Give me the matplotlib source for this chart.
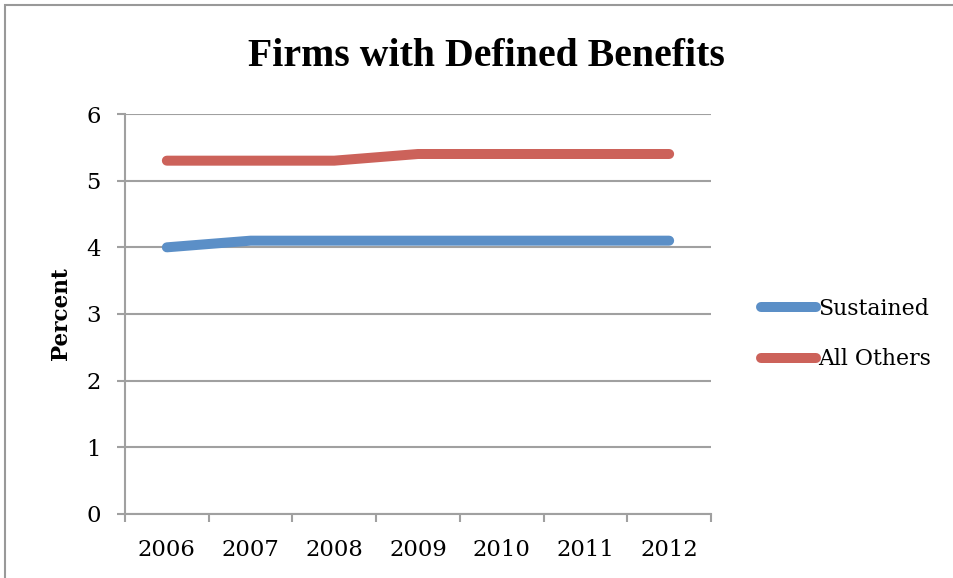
import numpy as np
import matplotlib.pyplot as plt
from matplotlib.lines import Line2D

years = ['2006', '2007', '2008', '2009', '2010', '2011', '2012']
sustained = [4.0, 4.1, 4.1, 4.1, 4.1, 4.1, 4.1]
all_others = [5.3, 5.3, 5.3, 5.4, 5.4, 5.4, 5.4]
series_names = ['Sustained', 'All Others']
colors = ['#5b8fc7', '#cc625a']

plt.rcParams['font.family'] = ['DejaVu Serif']

fig = plt.figure(figsize=(9.54, 5.78), dpi=100)
ax = fig.add_axes([125/954, 1 - 514/578, (711 - 125)/954, (514 - 114)/578])

x = np.arange(len(years))
for vals, c in zip([sustained, all_others], colors):
    ax.plot(x, vals, color=c, lw=7.2, solid_capstyle='round', solid_joinstyle='round', zorder=3)

grid_c = '#a0a0a0'
ax.set_xlim(-0.5, len(years) - 0.5)
ax.set_ylim(0, 6)
ax.set_yticks(range(7))
ax.yaxis.grid(True, color=grid_c, lw=1.5)
ax.set_xticks(x)
ax.set_xticklabels(years)
ax.set_xticks(np.arange(-0.5, len(years)), minor=True)
ax.tick_params(axis='x', which='major', length=0, pad=18, labelsize=16.4)
ax.tick_params(axis='x', which='minor', length=5.5, width=1.5, color=grid_c)
ax.tick_params(axis='y', length=5.5, width=1.5, color=grid_c, pad=12, labelsize=16.4)
for s in ['top', 'right']:
    ax.spines[s].set_visible(False)
for s in ['left', 'bottom']:
    ax.spines[s].set_color(grid_c)
    ax.spines[s].set_linewidth(1.5)

ax.set_ylabel('Percent', fontsize=15.5, fontweight='bold', labelpad=10)
fig.text(486/954, 1 - 57/578, 'Firms with Defined Benefits', ha='center', va='center',
         fontsize=28.6, fontweight='bold', family='Liberation Serif')

handles = [Line2D([], [], color=c, lw=7.2, solid_capstyle='round') for c in colors]
fig.legend(handles, series_names, loc='center left', bbox_to_anchor=(741/954, 1 - 334/578),
           frameon=False, fontsize=15.8, handlelength=2.5, handletextpad=0.1,
           labelspacing=1.3)

# outer chart border
fig.add_artist(plt.Rectangle((5/954, -0.1), 1.2, 1.1 - 5/578, transform=fig.transFigure,
                             fill=False, edgecolor='#999999', lw=1.5))

fig.savefig('out.png', dpi=100)
